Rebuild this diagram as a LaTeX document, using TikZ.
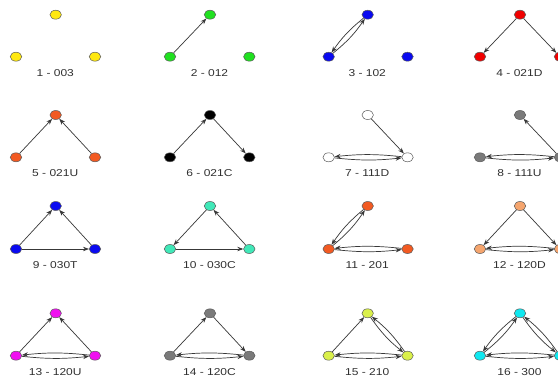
\documentclass[tikz,border=0pt]{standalone}
\usepackage{fontspec}
\setmainfont{Liberation Sans}
\usetikzlibrary{shapes.geometric,arrows.meta}
\definecolor{cyel}{HTML}{FFE810}
\definecolor{cgrn}{HTML}{20E020}
\definecolor{cblu}{HTML}{0A0AF0}
\definecolor{cred}{HTML}{F00000}
\definecolor{corg}{HTML}{F25A22}
\definecolor{cgry}{HTML}{7A7A7A}
\definecolor{caqu}{HTML}{40E8B8}
\definecolor{csan}{HTML}{F5A56E}
\definecolor{cmag}{HTML}{F010F0}
\definecolor{cylg}{HTML}{DAF04A}
\definecolor{ccya}{HTML}{10E8F0}
\definecolor{cedge}{HTML}{383838}
\definecolor{ctext}{HTML}{303030}
\tikzset{
  vtx/.style={ellipse, draw=black!65, line width=0.5pt, minimum width=11.5pt, minimum height=9pt, inner sep=0pt},
  lab/.style={text=ctext, inner sep=0pt, font=\fontsize{10}{12}\selectfont},
  arc/.style={draw=cedge, line width=0.7pt, -{Stealth[length=6pt,width=4.4pt]}},
  mh/.style={arc, bend right=6},
  md/.style={arc, bend right=8}
}
% \triad{id}{Lx}{Tx}{Rx}{top y}{bottom y}{colour}{label}  (y measured downward from top)
\newcommand{\triad}[8]{%
  \node[vtx, fill=#7] (#1T) at ({#3},{376-#5}) {};
  \node[vtx, fill=#7] (#1L) at ({#2},{376-#6}) {};
  \node[vtx, fill=#7] (#1R) at ({#4},{376-#6}) {};
  \node[lab] (#1lab) at ({#3-0.5},{376-#6-16}) {\scalebox{1.2}[1]{#8}};
}
\begin{document}
\begin{tikzpicture}[x=1pt,y=1pt]
\useasboundingbox (0,0) rectangle (558,376);
\fill[white] (0,0) rectangle (558,376);
% row 1
\triad{a}{16}{55.7}{95}{14.7}{56.7}{cyel}{1 - 003}
\triad{b}{170}{210}{249.3}{14.7}{56.7}{cgrn}{2 - 012}
\triad{c}{328.7}{367.7}{407.5}{14.7}{56.7}{cblu}{3 - 102}
\triad{d}{480}{520}{560}{14.7}{56.7}{cred}{4 - 021D}
% row 2
\triad{e}{16}{55.7}{95}{115}{157.3}{corg}{5 - 021U}
\triad{f}{170}{210}{249.3}{115}{157.3}{black}{6 - 021C}
\triad{g}{328.7}{367.7}{407.5}{115}{157.3}{white}{7 - 111D}
\triad{h}{480}{520}{560}{115}{157.3}{cgry}{8 - 111U}
% row 3
\triad{i}{16}{55.7}{95}{206}{249}{cblu}{9 - 030T}
\triad{j}{170}{210}{249.3}{206}{249}{caqu}{10 - 030C}
\triad{k}{328.7}{367.7}{407.5}{206}{249}{corg}{11 - 201}
\triad{l}{480}{520}{560}{206}{249}{csan}{12 - 120D}
% row 4
\triad{m}{16}{55.7}{95}{313.3}{355.7}{cmag}{13 - 120U}
\triad{n}{170}{210}{249.3}{313.3}{355.7}{cgry}{14 - 120C}
\triad{o}{328.7}{367.7}{407.5}{313.3}{355.7}{cylg}{15 - 210}
\triad{p}{480}{520}{560}{313.3}{355.7}{ccya}{16 - 300}
% 2 - 012
\draw[arc] (bL) -- (bT);
% 3 - 102
\draw[md] (cL) to (cT);
\draw[md] (cT) to (cL);
% 4 - 021D
\draw[arc] (dT) -- (dL);
\draw[arc] (dT) -- (dR);
% 5 - 021U
\draw[arc] (eL) -- (eT);
\draw[arc] (eR) -- (eT);
% 6 - 021C
\draw[arc] (fL) -- (fT);
\draw[arc] (fT) -- (fR);
% 7 - 111D
\draw[arc] (gT) -- (gR);
\draw[mh] (gL) to (gR);
\draw[mh] (gR) to (gL);
% 8 - 111U
\draw[arc] (hR) -- (hT);
\draw[mh] (hL) to (hR);
\draw[mh] (hR) to (hL);
% 9 - 030T
\draw[arc] (iL) -- (iT);
\draw[arc] (iR) -- (iT);
\draw[arc] (iL) -- (iR);
% 10 - 030C
\draw[arc] (jT) -- (jL);
\draw[arc] (jR) -- (jT);
\draw[arc] (jL) -- (jR);
% 11 - 201
\draw[md] (kL) to (kT);
\draw[md] (kT) to (kL);
\draw[mh] (kL) to (kR);
\draw[mh] (kR) to (kL);
% 12 - 120D
\draw[arc] (lT) -- (lL);
\draw[arc] (lT) -- (lR);
\draw[mh] (lL) to (lR);
\draw[mh] (lR) to (lL);
% 13 - 120U
\draw[arc] (mL) -- (mT);
\draw[arc] (mR) -- (mT);
\draw[mh] (mL) to (mR);
\draw[mh] (mR) to (mL);
% 14 - 120C
\draw[arc] (nL) -- (nT);
\draw[arc] (nT) -- (nR);
\draw[mh] (nL) to (nR);
\draw[mh] (nR) to (nL);
% 15 - 210
\draw[arc] (oL) -- (oT);
\draw[md] (oT) to (oR);
\draw[md] (oR) to (oT);
\draw[mh] (oL) to (oR);
\draw[mh] (oR) to (oL);
% 16 - 300
\draw[md] (pL) to (pT);
\draw[md] (pT) to (pL);
\draw[md] (pT) to (pR);
\draw[md] (pR) to (pT);
\draw[mh] (pL) to (pR);
\draw[mh] (pR) to (pL);
\end{tikzpicture}
\end{document}
